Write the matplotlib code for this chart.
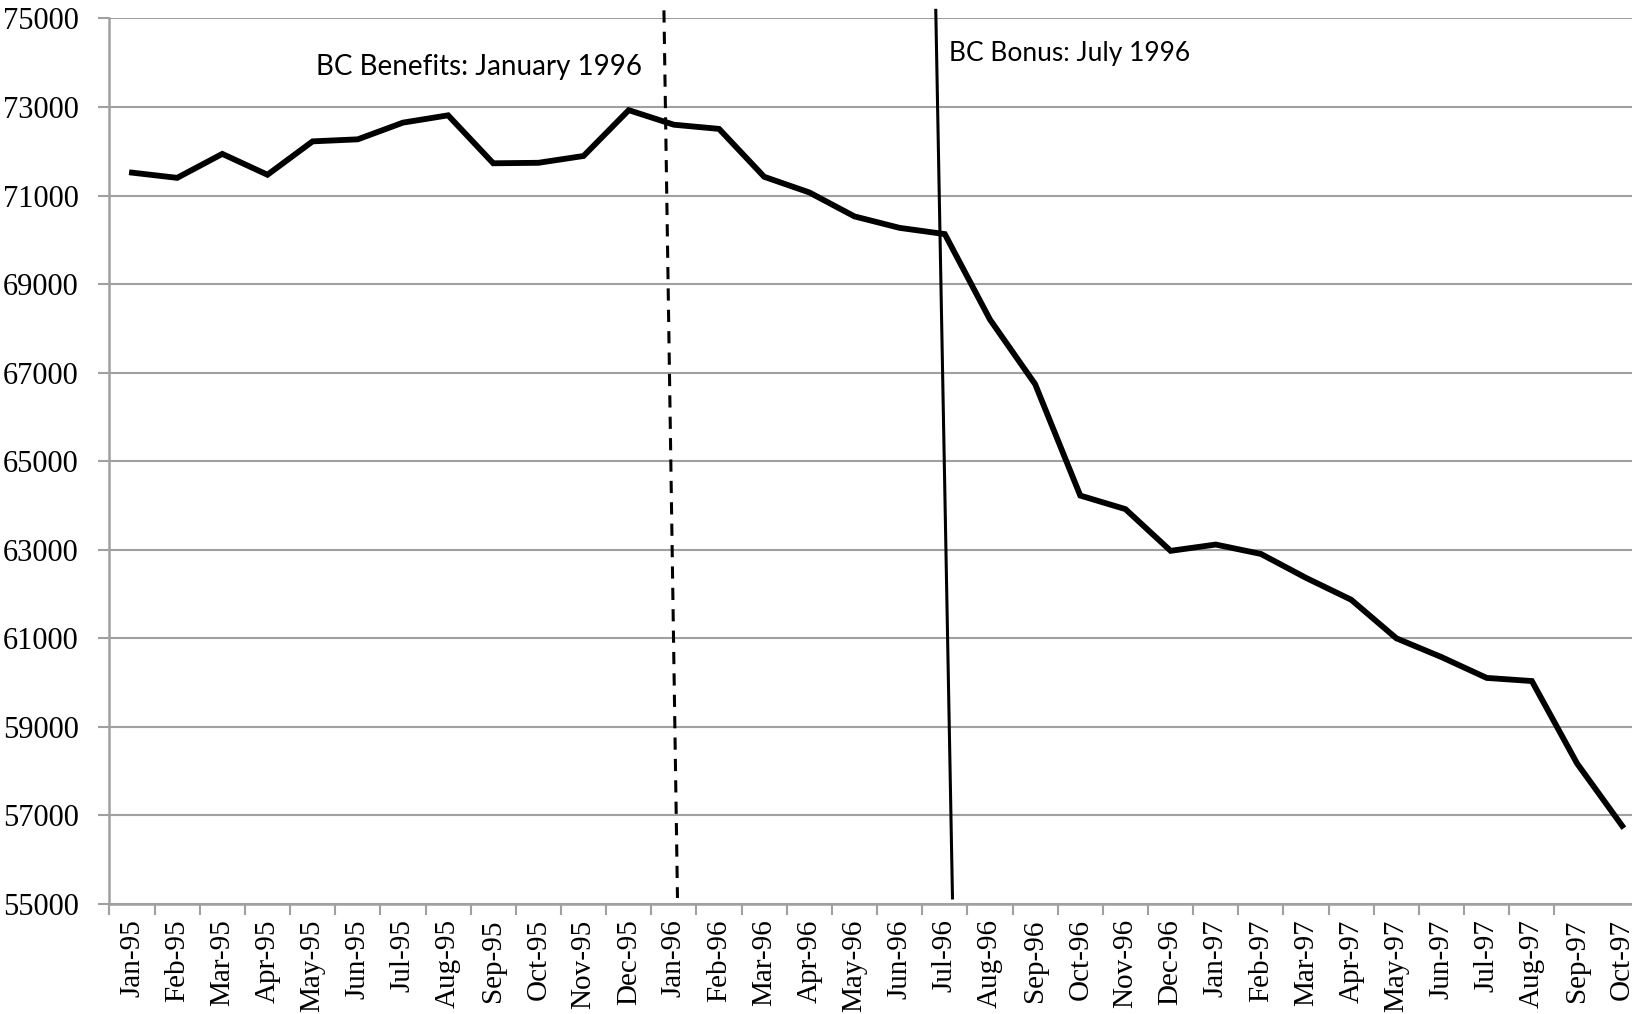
import matplotlib.pyplot as plt
import numpy as np

# Monthly values
months = ['Jan-95', 'Feb-95', 'Mar-95', 'Apr-95', 'May-95', 'Jun-95', 'Jul-95', 'Aug-95',
          'Sep-95', 'Oct-95', 'Nov-95', 'Dec-95', 'Jan-96', 'Feb-96', 'Mar-96', 'Apr-96',
          'May-96', 'Jun-96', 'Jul-96', 'Aug-96', 'Sep-96', 'Oct-96', 'Nov-96', 'Dec-96',
          'Jan-97', 'Feb-97', 'Mar-97', 'Apr-97', 'May-97', 'Jun-97', 'Jul-97', 'Aug-97',
          'Sep-97', 'Oct-97']
values = [71518, 71400, 71941, 71470, 72224, 72270, 72647, 72812,
          71729, 71740, 71894, 72929, 72600, 72506, 71424, 71070,
          70529, 70270, 70130, 68200, 66741, 64224, 63918, 62976,
          63118, 62906, 62365, 61871, 61000, 60576, 60106, 60035,
          58176, 56765]
y_ticks = list(range(55000, 75001, 2000))

# the two event markers (slightly slanted, as drawn in the original)
benefits_x = [11.78, 12.08]
bonus_x = [17.8, 18.17]
marker_y = [75183, 55136]

GRAY = '#a0a0a0'

fig = plt.figure(figsize=(16.33, 10.14), dpi=100)
ax = fig.add_axes([0.067, 0.1085, 0.933, 0.8733])

x = np.arange(len(months))
ax.plot(x, values, color='black', lw=4.2, solid_joinstyle='miter', zorder=3)

ax.set_yticks(y_ticks)
ax.set_yticklabels([str(v) for v in y_ticks], family='Liberation Serif', fontsize=22)
ax.set_xticks(x)
ax.set_xticklabels(months, rotation=90, family='Liberation Serif', fontsize=21)
# category boundary ticks (the last one before Oct-97 is not drawn in the original)
ax.set_xticks(np.arange(-0.5, len(months) - 2, 1.0), minor=True)
ax.tick_params(axis='x', which='major', length=0, pad=11)
ax.tick_params(axis='x', which='minor', length=8, width=1.5, color=GRAY)
ax.tick_params(axis='y', length=8, width=1.5, color=GRAY, pad=14)

# limits after the ticks, so the boundary ticks don't widen the view
ax.set_xlim(-0.5, 33.24)
ax.set_ylim(55000, 75000)

ax.grid(axis='y', color=GRAY, lw=1.5)
ax.set_axisbelow(True)
for s in ['top', 'right']:
    ax.spines[s].set_visible(False)
for s in ['left', 'bottom']:
    ax.spines[s].set_color(GRAY)
    ax.spines[s].set_linewidth(1.8)

ax.plot(benefits_x, marker_y, color='black', lw=2.2, ls=(0, (4, 3)), clip_on=False, zorder=4)
ax.plot(bonus_x, marker_y, color='black', lw=2.2, clip_on=False, zorder=4)

ax.text(11.3, 73900, 'BC Benefits: January 1996', family='Lato', fontsize=20,
        ha='right', va='center')
ax.text(18.1, 74200, 'BC Bonus: July 1996', family='Lato', fontsize=19,
        ha='left', va='center')

fig.savefig('out.png', dpi=100)
